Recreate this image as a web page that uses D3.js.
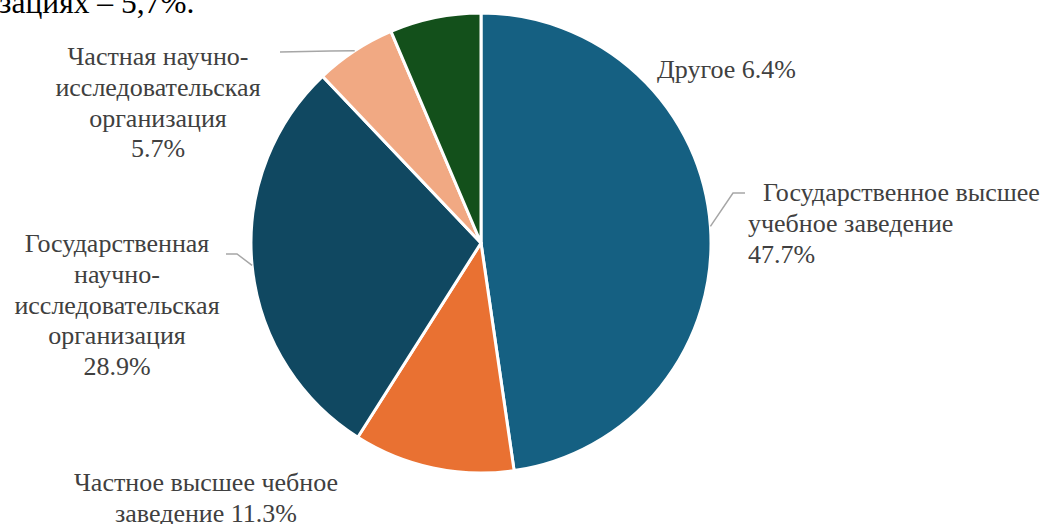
<!DOCTYPE html>
<html>
<head>
<meta charset="utf-8">
<script src="https://cdn.jsdelivr.net/npm/d3@7"></script>
<style>
  html, body { margin: 0; padding: 0; background: #fff; overflow: hidden; }
  svg { display: block; }
</style>
</head>
<body>
<div id="vis"></div>
<script>
// данные диаграммы
var categories = [
  "Государственное высшее учебное заведение",
  "Частное высшее чебное заведение",
  "Государственная научно-исследовательская организация",
  "Частная научно-исследовательская организация",
  "Другое"
];
var values = [47.7, 11.3, 28.9, 5.7, 6.4];
var colors = ["#156082", "#E97132", "#104861", "#F1A983", "#13501B"];
// строки подписей (как в оригинале, с переносами)
var labelLines = [
  ["Государственное высшее", "учебное заведение", "47.7%"],
  ["Частное высшее чебное", "заведение 11.3%"],
  ["Государственная", "научно-", "исследовательская", "организация", "28.9%"],
  ["Частная научно-", "исследовательская", "организация", "5.7%"],
  ["Другое 6.4%"]
];

var width = 1045;
var height = 524;
var cx = 481, cy = 243, radius = 230;
var lineHeight = 30.8;
var serif = "Liberation Serif, Times New Roman, serif";

// раскладка подписей (базовая линия первой строки, выравнивание, выноска)
var labelLayout = [
  { x: 748, y: 201, anchor: "start",  firstX: 763, elbow: [733, 193], end: [745, 193] },
  { x: 206, y: 491, anchor: "middle", elbow: null },
  { x: 117, y: 252, anchor: "middle", elbow: [237, 254], end: [226, 254] },
  { x: 158, y: 65,  anchor: "middle", elbow: [330, 51], end: [280, 52] },
  { x: 657, y: 78,  anchor: "start",  elbow: null }
];

var svg = d3.select("#vis").append("svg")
    .attr("width", width)
    .attr("height", height);

// обрезанный текст документа сверху
svg.append("text")
    .attr("x", -1)
    .attr("y", 13)
    .attr("font-family", serif)
    .attr("font-size", 31.5)
    .attr("fill", "#000")
    .text("зациях – 5,7%.");

var pie = d3.pie().sort(null).value(function(d) { return d; });
var arcs = pie(values);
var arc = d3.arc().innerRadius(0).outerRadius(radius);

var g = svg.append("g").attr("transform", "translate(" + cx + "," + cy + ")");

g.selectAll("path.slice")
  .data(arcs)
  .enter().append("path")
    .attr("class", "slice")
    .attr("d", arc)
    .style("fill", function(d, i) { return colors[i]; })
    .style("stroke", "#fff")
    .style("stroke-width", 3)
    .style("stroke-linejoin", "round");

// выноски
arcs.forEach(function(d, i) {
  var lay = labelLayout[i];
  if (!lay.elbow) return;
  var mid = (d.startAngle + d.endAngle) / 2;
  var sx = cx + radius * Math.sin(mid);
  var sy = cy - radius * Math.cos(mid);
  svg.append("polyline")
      .attr("points", [[sx, sy], lay.elbow, lay.end].map(function(p) { return p.join(","); }).join(" "))
      .style("fill", "none")
      .style("stroke", "#a6a6a6")
      .style("stroke-width", 1.5);
});

// подписи
labelLines.forEach(function(lines, i) {
  var lay = labelLayout[i];
  var t = svg.append("text")
      .attr("text-anchor", lay.anchor)
      .attr("font-family", serif)
      .attr("font-size", 26)
      .attr("fill", "#404040");
  lines.forEach(function(line, k) {
    t.append("tspan")
        .attr("x", (k === 0 && lay.firstX) ? lay.firstX : lay.x)
        .attr("y", lay.y + k * lineHeight)
        .text(line);
  });
});
</script>
</body>
</html>
